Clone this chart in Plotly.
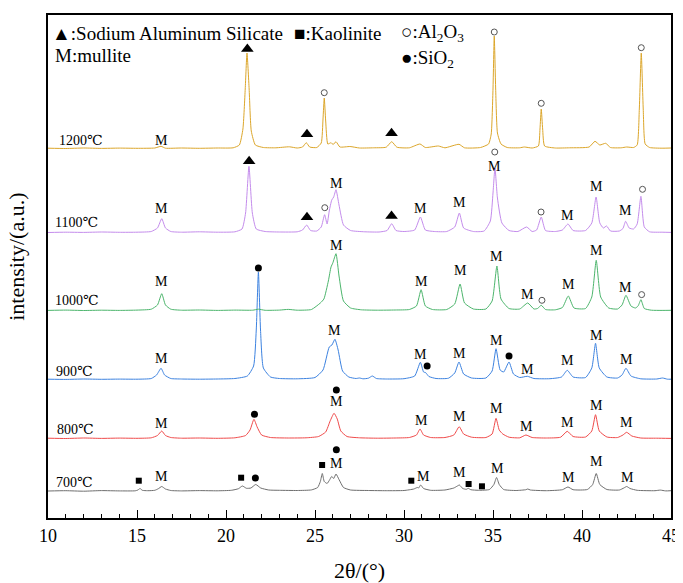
import plotly.graph_objects as go

# ---------------- data (2θ, intensity above the trace's own baseline) ----------------
temps = ["700℃", "800℃", "900℃", "1000℃", "1100℃", "1200℃"]
offsets = [26.5, 79, 138, 207, 285, 369]          # vertical stacking offset of each pattern
colors = ["#6e6e6e", "#f04a4a", "#3c82e0", "#4cb56c", "#c48cec", "#dca62a"]

p700 = [(10,0.5),(11,0.8),(12,0.3),(13,0.9),(14,0.6),(14.9,0.7),(15.05,1.5),(15.17,3),(15.3,1.2),(15.6,0.8),
        (16.0,1.2),(16.2,2.8),(16.39,5),(16.6,2.5),(16.9,1.0),(17.5,0.6),(18.5,0.9),(19.5,0.7),(20.3,1.2),
        (20.7,2.8),(20.92,5.5),(21.15,3.2),(21.4,3.5),(21.67,7),(21.95,3.5),(22.4,1.5),(23,1.2),(24,1.0),
        (24.8,1.6),(25.15,4),(25.3,10),(25.41,18),(25.52,10),(25.68,8),(25.8,11),(25.94,15),(26.05,13),
        (26.18,17.5),(26.35,12),(26.6,4),(27.0,1.5),(28,1.0),(29,0.8),(30.0,1.0),(30.55,2.5),(30.75,4),
        (30.82,3.5),(30.94,6.5),(31.1,3),(31.5,1.2),(32.3,1.5),(32.8,3.5),(33.0,5.5),(33.11,6.5),(33.3,3),
        (33.5,2.2),(33.61,3.2),(33.75,1.8),(34.2,1.2),(34.8,2.0),(35.05,7),(35.2,14),(35.35,7),(35.6,2),
        (36.3,1.0),(36.85,1.8),(36.95,2.5),(37.1,1.5),(38,0.8),(38.9,1.8),(39.21,4.5),(39.5,1.8),(40.3,2.0),
        (40.6,7),(40.8,18),(41.0,7),(41.4,2),(42.1,1.5),(42.35,3.5),(42.51,5),(42.7,3),(43.1,1.2),(44.1,0.8),
        (44.4,1.4),(44.7,0.6),(45,0.8)]

p800 = [(10,0.8),(11,0.5),(12,1.0),(13,0.6),(14,0.9),(15,0.7),(15.8,1.2),(16.15,3.5),(16.39,8),(16.6,3.5),
        (16.9,1.5),(17.5,0.8),(18.5,1.0),(19.5,0.7),(20.5,1.2),(21.1,3.5),(21.35,9),(21.57,19.7),(21.75,12),
        (22.0,4),(22.5,1.5),(23.5,1.0),(24.5,1.2),(25.2,2.5),(25.6,7),(25.85,18),(26.07,25.7),(26.25,20),
        (26.45,8),(26.8,2.5),(27.5,1.2),(28.5,0.8),(29.5,1.0),(30.3,1.5),(30.7,4),(30.9,10),(31.1,4),(31.5,1.5),
        (32.3,1.5),(32.8,4),(33.1,12.3),(33.35,5),(33.8,1.8),(34.6,1.5),(34.95,5),(35.17,20.7),(35.35,9),
        (35.55,5),(35.9,1.8),(36.5,1.2),(36.85,4),(37.2,1.5),(38,1.0),(38.8,1.8),(39.17,7.7),(39.5,2.5),
        (40.2,2.0),(40.55,8),(40.76,24.3),(40.97,8),(41.4,2),(42.0,1.5),(42.3,4),(42.51,6.7),(42.8,3),
        (43.3,1.0),(44.2,0.8),(45,0.6)]

p900 = [(10,0.8),(11,0.6),(12,1.0),(13,0.7),(14,0.9),(15,0.8),(15.8,1.5),(16.1,5),(16.35,11.7),(16.55,5),
        (16.9,1.5),(17.5,1.0),(18.5,0.8),(19.5,1.0),(20.5,1.5),(21.2,4),(21.55,14),(21.7,50),(21.82,108),
        (21.94,50),(22.1,12),(22.5,3),(23,1.5),(24,1.2),(25.0,2.5),(25.45,10),(25.8,33),(25.95,35),
        (26.12,40.7),(26.3,30),(26.55,9),(26.9,3),(27.3,1.5),(27.5,2),(27.7,1.2),(28.0,1.8),(28.22,4),
        (28.45,1.5),(29,1.0),(30.0,1.3),(30.6,4),(30.92,17.7),(31.1,8),(31.22,7.3),(31.4,3.5),(31.8,1.5),
        (32.5,1.8),(32.85,7),(33.09,18),(33.35,6),(33.8,2),(34.6,2),(34.95,9),(35.17,31.3),(35.4,10),
        (35.6,8),(35.9,18),(36.15,6),(36.5,2.5),(36.93,3.7),(37.3,1.5),(38.2,1.3),(38.85,3),(39.17,9.7),
        (39.5,3),(40.2,2.5),(40.55,12),(40.76,36.7),(40.97,12),(41.4,3),(42.0,2),(42.25,5),(42.47,11.7),
        (42.75,4),(43.3,1.2),(44.2,1.0),(44.53,2),(44.8,0.8),(45,0.8)]

p1000 = [(10,0.6),(11,0.9),(12,0.5),(13,0.8),(14,0.6),(15,0.9),(15.8,1.8),(16.15,6),(16.39,17.3),(16.6,6),
         (16.9,1.8),(17.5,0.8),(18.5,1.0),(19.5,0.6),(20.5,0.9),(21.5,0.8),(21.82,1.8),(22.2,0.7),(23.0,0.9),
         (23.5,1.6),(24.0,0.8),(24.8,1.5),(25.3,8),(25.5,12),(25.75,30),(25.9,44),(26.0,48),(26.18,57.3),
         (26.35,35),(26.6,10),(27.0,3),(27.6,1.2),(28.5,0.8),(29.5,1.0),(30.3,1.5),(30.7,5),(30.96,21.3),
         (31.2,5),(31.6,1.5),(32.4,1.5),(32.85,7),(33.15,27),(33.4,8),(33.9,2),(34.6,2),(34.95,10),
         (35.22,45),(35.45,12),(35.9,2.5),(36.5,2),(36.95,8),(37.3,2),(37.5,2.5),(37.71,5.7),(37.95,1.5),
         (38.5,1.2),(38.9,3.5),(39.23,15),(39.55,3),(40.2,2.5),(40.55,14),(40.8,50.7),(41.05,14),(41.5,3),
         (42.0,2),(42.25,6),(42.47,15.7),(42.75,5),(43.0,3),(43.15,5),(43.31,11.3),(43.5,2.5),(43.9,0.8),
         (44.5,0.6),(45,0.7)]

p1100 = [(10,0.5),(11,0.8),(12,0.6),(13,1.0),(14,0.7),(15,0.8),(15.8,1.5),(16.15,5),(16.39,14.3),(16.6,5),
         (16.9,1.5),(17.5,0.8),(18.5,1.2),(19.5,0.8),(20.5,1.2),(20.9,4),(21.1,20),(21.29,66.7),(21.48,20),
         (21.7,4),(22.2,1.5),(23,1.0),(24.0,1.2),(24.3,3),(24.53,8),(24.75,2.5),(25.1,2),(25.35,6),
         (25.54,18.3),(25.68,9),(25.8,22),(25.94,33),(26.05,36),(26.18,43.3),(26.35,28),(26.6,8),(27.0,2.5),
         (27.8,1.2),(28.6,1.0),(29.05,2.5),(29.31,9.3),(29.55,2.5),(30.0,1.5),(30.6,3),(30.92,16),(31.2,3),
         (31.7,1.5),(32.4,1.5),(32.85,6),(33.11,20),(33.35,5),(33.9,1.5),(34.5,2),(34.85,12),(35.0,40),
         (35.11,65),(35.25,35),(35.5,10),(35.9,2.5),(36.4,1.5),(36.89,6),(37.2,1.5),(37.45,3),(37.71,16),
         (37.95,2.5),(38.5,1.5),(38.9,3),(39.21,9),(39.5,2.5),(40.2,2.5),(40.55,10),(40.79,36),(41.0,10),
         (41.2,5),(41.38,7),(41.6,2),(42.1,2),(42.3,4.5),(42.45,11.7),(42.65,5),(42.9,4),(43.1,9),
         (43.31,36.7),(43.5,6),(43.8,1.2),(44.5,0.8),(45,0.6)]

p1200 = [(10,0.8),(11,0.5),(12,1.0),(13,0.6),(14,0.9),(15,0.7),(16.0,1.0),(16.35,2.7),(16.6,0.8),(17.5,1.0),
         (18.5,0.7),(19.5,1.0),(20.4,1.2),(20.75,4),(20.95,20),(21.08,60),(21.18,96),(21.3,60),(21.42,18),
         (21.65,4),(22.1,1.5),(22.8,1.2),(23.56,2.2),(24.0,1.0),(24.3,2),(24.51,6.3),(24.7,2),(25.1,1.5),
         (25.35,6),(25.45,30),(25.52,51),(25.6,28),(25.72,5),(25.9,6.3),(26.02,4.5),(26.18,7.3),(26.4,2),
         (26.97,2.5),(27.5,1),(28.3,1.2),(29.0,1.8),(29.31,7.3),(29.6,1.8),(30.3,1.2),(30.9,5),(31.2,1.5),
         (31.93,3),(32.3,1.2),(33.09,4.7),(33.4,1.2),(34.3,1.5),(34.75,5),(34.9,15),(35.0,60),(35.07,113),
         (35.15,60),(35.25,16),(35.45,5),(35.8,1.5),(36.5,1.2),(36.76,2),(37.2,1.0),(37.55,3),(37.64,20),
         (37.71,40),(37.79,20),(37.9,3),(38.5,1.0),(39.3,1.2),(40.4,2),(40.73,7.7),(41.0,4),(41.33,5.7),
         (41.6,1.5),(42.2,1.2),(42.51,2),(42.9,1.5),(43.1,4),(43.22,40),(43.33,96),(43.44,40),(43.55,5),
         (43.8,1.5),(44.5,0.8),(45,1.0)]

patterns = [p700, p800, p900, p1000, p1100, p1200]

# phase marks: (symbol, 2θ, height above the pattern baseline)
marks700 = [("sq",15.1,10.8),("M",16.4,15.5),("sq",20.85,13.8),("dot",21.65,13.5),("sq",25.4,26.5),
            ("M",26.2,28.5),("dot",26.2,41.8),("sq",30.41,10.8),("M",31.12,14.8),("M",33.09,18.8),
            ("sq",33.63,7.5),("sq",34.38,5.2),("M",35.24,23.5),("M",39.23,13.8),("M",40.84,29.8),("M",42.55,13.8)]
marks800 = [("M",16.4,15.7),("dot",21.6,24.7),("dot",26.2,49),("M",26.2,37.3),("M",30.97,19),("M",33.1,22.3),
            ("M",35.2,30.3),("M",36.9,12.3),("M",39.2,16.7),("M",40.8,33.3),("M",42.5,16.7)]
marks900 = [("M",16.4,21.7),("dot",21.82,112),("M",26.1,50),("M",30.9,25.7),("dot",31.3,14),("M",33.1,26.7),
            ("M",35.2,40),("dot",35.9,24),("M",36.95,11),("M",39.2,19.3),("M",40.8,44.3),("M",42.5,21)]
marks1000 = [("M",16.4,29.7),("M",26.2,65.7),("M",30.96,30),("M",33.15,40.7),("M",35.22,54.7),("M",36.95,16.7),
             ("ring",37.75,10.7),("M",39.23,26.4),("M",40.8,60.7),("M",42.47,24),("ring",43.35,16.4)]
marks1100 = [("M",16.4,24.7),("tri",21.3,71.7),("tri",24.55,15.7),("ring",25.55,25.3),("M",26.2,49.7),
             ("tri",29.3,17),("M",30.95,24.3),("M",33.1,30.3),("ring",35.1,81),("M",35.1,67),("ring",37.7,21),
             ("M",39.2,17.7),("M",40.8,47),("M",42.45,23),("ring",43.4,43.7)]
marks1200 = [("M",16.35,8.3),("tri",21.2,100),("tri",24.55,14.7),("ring",25.52,56.3),("tri",29.3,15.7),
             ("ring",35.07,117),("ring",37.71,45.7),("ring",43.33,101.3)]
marks = [marks700, marks800, marks900, marks1000, marks1100, marks1200]

label_x = [10.35, 10.39, 10.34, 10.26, 10.3, 10.49]
label_dy = [9.5, 10, 9, 10.4, 11, 9]

xticks = [10, 15, 20, 25, 30, 35, 40, 45]

# ---------------- figure ----------------
SERIF = '"Liberation Serif", "Times New Roman", "DejaVu Serif", serif'
fig = go.Figure()

for pat, off, col in zip(patterns, offsets, colors):
    fig.add_trace(go.Scatter(x=[p[0] for p in pat], y=[p[1] + off for p in pat], mode="lines",
                             line=dict(color=col, width=1, shape="spline", smoothing=0.5),
                             hoverinfo="skip", showlegend=False))

sym_style = {
    "tri": dict(symbol="triangle-up", size=11, color="black"),
    "sq": dict(symbol="square", size=6, color="black"),
    "dot": dict(symbol="circle", size=7, color="black"),
    "ring": dict(symbol="circle-open", size=6, color="#555555", line=dict(width=1)),
}
for key, style in sym_style.items():
    xs, ys = [], []
    for mk, off in zip(marks, offsets):
        for s, x, dy in mk:
            if s == key:
                xs.append(x); ys.append(off + dy)
    fig.add_trace(go.Scatter(x=xs, y=ys, mode="markers", marker=style, hoverinfo="skip", showlegend=False))

for mk, off in zip(marks, offsets):
    for s, x, dy in mk:
        if s == "M":
            fig.add_annotation(x=x, y=off + dy, text="M", showarrow=False,
                               font=dict(family=SERIF, size=14, color="black"),
                               xanchor="center", yanchor="middle")

for t, lx, dy, off in zip(temps, label_x, label_dy, offsets):
    fig.add_annotation(x=lx, y=off + dy, text=t, showarrow=False,
                       font=dict(family=SERIF, size=14, color="black"),
                       xanchor="left", yanchor="middle")

legend_items = [
    ("▲:Sodium Aluminum Silicate", 0.004, 0.964),
    ("M:mullite", 0.008, 0.920),
    ("■:Kaolinite", 0.392, 0.964),
    ("○:Al<sub>2</sub>O<sub>3</sub>", 0.563, 0.964),
    ("●:SiO<sub>2</sub>", 0.563, 0.913),
]
for txt, px, py in legend_items:
    fig.add_annotation(x=px, y=py, xref="paper", yref="paper", text=txt, showarrow=False,
                       font=dict(family=SERIF, size=19, color="black"),
                       xanchor="left", yanchor="middle")

# axis titles placed explicitly
fig.add_annotation(x=0.5, y=-0.105, xref="paper", yref="paper", text="2θ/(°)", showarrow=False,
                   font=dict(family=SERIF, size=22, color="black"), xanchor="center", yanchor="middle")
fig.add_annotation(x=-0.05, y=0.519, xref="paper", yref="paper", text="intensity/(a.u.)", showarrow=False,
                   textangle=-90, font=dict(family=SERIF, size=22, color="black"),
                   xanchor="center", yanchor="middle")

fig.update_xaxes(range=[10, 45], tickvals=xticks, ticktext=[str(v) for v in xticks],
                 ticks="inside", ticklen=8, tickwidth=1, tickcolor="black",
                 minor=dict(dtick=1, tick0=10, ticks="inside", ticklen=4, tickcolor="black"),
                 showline=True, linewidth=2, linecolor="black", mirror=True,
                 showgrid=False, zeroline=False, automargin=False,
                 tickfont=dict(family=SERIF, size=18, color="black"))
fig.update_yaxes(range=[0, 503], showticklabels=False, ticks="",
                 showline=True, linewidth=2, linecolor="black", mirror=True,
                 showgrid=False, zeroline=False, automargin=False)

# the page adds an 8 px body margin, so the figure is sized to fit the 683x583 window
fig.update_layout(width=675, height=575, margin=dict(l=40, r=12, t=7, b=65),
                  plot_bgcolor="white", paper_bgcolor="white", showlegend=False)

fig.write_html("out.html")
